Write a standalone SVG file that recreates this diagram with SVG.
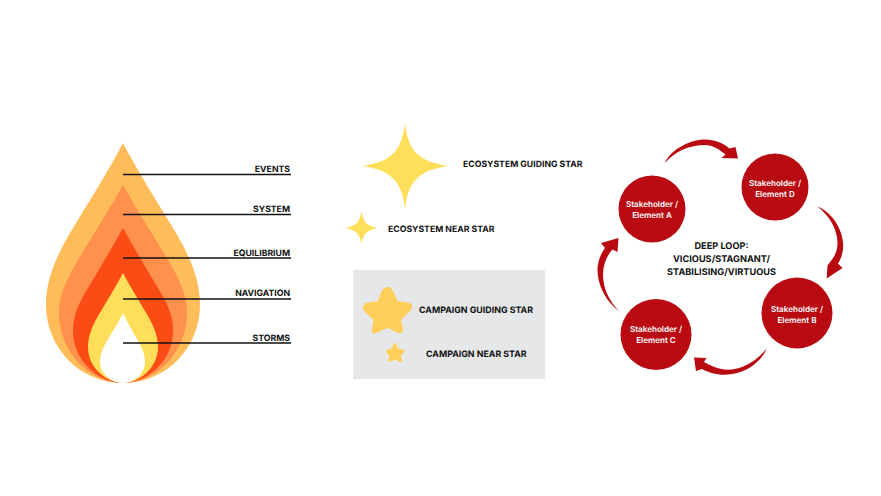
<svg xmlns="http://www.w3.org/2000/svg" width="881" height="496" viewBox="0 0 881 496">
<style>
text{font-family:"Inter","Liberation Sans",sans-serif;font-weight:700;fill:#111;font-size:8.7px;text-rendering:geometricPrecision}
.r{text-anchor:end}
.k{font-size:8.85px}
.w{fill:#fff;font-weight:600;font-size:8.1px;text-anchor:middle}
.c{fill:#111;font-weight:700;font-size:9.2px;text-anchor:middle}
.ln{stroke:#111;stroke-width:1.3;fill:none}
.node{fill:#b80a10}
.ar{fill:#b80a10}
</style>
<rect width="881" height="496" fill="#fff"/>
<g id="flame">
<path fill="#ffbd59" d="M123 143C108 172 88 203 70 233C54 260 46 282 46 305C46 348 80 383 123 383C166 383 200 348 200 305C200 282 192 260 176 233C158 203 138 172 123 143Z"/>
<path fill="#ff914d" d="M123 185C110 208 93 235 78 260C66 280 59 295 59 313C59 352 90 383 123 383C156 383 187 352 187 313C187 295 180 280 168 260C153 235 136 208 123 185Z"/>
<path fill="#fb4c16" d="M123 228C112 248 100 268 88 288C78 304 73 316 73 331C73 362 100 383 123 383C146 383 173 362 173 331C173 316 168 304 158 288C146 268 134 248 123 228Z"/>
<path fill="#ffde59" d="M123 273C115 288 107 301 98 316C91 328 88 338 88 347C88 369 108 383 123 383C138 383 158 369 158 347C158 338 155 328 148 316C139 301 131 288 123 273Z"/>
<path fill="#fff" d="M123 313C117 325 112 332 107 341C102 349 100 356 100 362C100 374 112 383 123 383C134 383 145 374 145 362C145 356 143 349 138 341C133 332 129 325 123 313Z"/>
</g>
<g id="flame-labels">
<line class="ln" x1="123" y1="174.500" x2="291" y2="174.500"/>
<line class="ln" x1="123" y1="214.500" x2="291" y2="214.500"/>
<line class="ln" x1="123" y1="258" x2="291" y2="258"/>
<line class="ln" x1="123" y1="299" x2="291" y2="299"/>
<line class="ln" x1="123" y1="343" x2="291" y2="343"/>
<text class="r" x="290" y="172">EVENTS</text>
<text class="r" x="290" y="212">SYSTEM</text>
<text class="r" x="290" y="256">EQUILIBRIUM</text>
<text class="r" x="290" y="296">NAVIGATION</text>
<text class="r" x="290" y="341">STORMS</text>
</g>
<g id="ecosystem-guiding-star">
<path fill="#ffde59" d="M405 123C408 150 418 162 449 166C418 170 408 182 405 209C402 182 392 170 362 166C392 162 402 150 405 123Z"/>
<text x="463" y="167">ECOSYSTEM GUIDING STAR</text>
</g>
<g id="ecosystem-near-star">
<path fill="#ffde59" d="M361.500 211C363 222 367 226 378 228C367 230 363 234 361.500 244C360 234 356 230 345 228C356 226 360 222 361.500 211Z"/>
<text x="388" y="232">ECOSYSTEM NEAR STAR</text>
</g>
<g id="campaign-panel">
<rect x="353" y="270" width="192" height="109" fill="#e6e7e9"/>
</g>
<g id="campaign-guiding-star">
<path fill="#ffcf5c" d="M387.500 287C391 287 393 290 395 295L397.500 301L405 302C411 302.500 413 305 412 308C411 310 408 313 405 316L401 320L403 329C403 333 401 334 398 333C395 332 391 329 387.500 328C384 329 380 332 376 333C373 334 371 333 372 329L373.500 320L367 314C364 311 362 309 363.500 305C364.500 303 367 302.500 371 302L378 301L380.500 294C382 290 384 287 387.500 287Z"/>
<text class="k" x="419" y="313">CAMPAIGN GUIDING STAR</text>
</g>
<g id="campaign-near-star">
<path fill="#ffcf5c" d="M395 343C396.500 343 397 345 398 348.500L403 349.500C405 350 405 351.500 404 352.500L401 355.500L402 360C402 362 400.500 362 399 361.500L395 359.500L391 361.500C389.500 362 388 362 388.500 360L389 355.500L386.500 352.500C385.500 351.500 386 350 388 349.500L392 348.500C393 345 393.500 343 395 343Z"/>
<text class="k" x="426" y="356.500">CAMPAIGN NEAR STAR</text>
</g>
<g id="connectors">
<path class="ar" d="M665 163C670 150 690 139.500 705 139.500C715 139.500 723 143 729.500 148.500L735.500 147L738 158.500L721.500 158L725.500 154.500C719 149 712 145 705 145C690 145 675 151 665 163Z"/>
<path class="ar" d="M817.500 206.500C830 211 843.300 228 843.200 246C843 253 841 259 838 263.500L842.500 268L826.700 278.500L827.500 265.500L832 259.500C836 254 837.500 249 837.500 243C837.500 230 830 216 817.500 206.500Z"/>
<path class="ar" d="M767 348C760 365 742 374.500 725 374.800C717 375 708 372.500 702 369L696 371L694 357.500L706.500 358L704 362C711 366 719 369.500 728 369.700C742 370 757 361 767 348Z"/>
<path class="ar" d="M619.500 311.500C606 302 597.500 285 597.500 270C597.500 262 600.500 254 605 248L601 243L618.500 238L617.500 252L612.500 249.500C606.500 256 603 265 603 275C603 288 609 301 619.500 311.500Z"/>
</g>
<g id="stakeholder-a"><circle class="node" cx="652" cy="209" r="33.500"/><text class="w" x="652" y="207">Stakeholder /</text><text class="w" x="652" y="218">Element A</text></g>
<g id="stakeholder-d"><circle class="node" cx="775" cy="187" r="33.500"/><text class="w" x="775" y="186">Stakeholder /</text><text class="w" x="775" y="197">Element D</text></g>
<g id="stakeholder-b"><circle class="node" cx="797" cy="313" r="35.500"/><text class="w" x="797" y="311.500">Stakeholder /</text><text class="w" x="797" y="322.500">Element B</text></g>
<g id="stakeholder-c"><circle class="node" cx="656" cy="334.500" r="35.500"/><text class="w" x="656" y="332">Stakeholder /</text><text class="w" x="656" y="343">Element C</text></g>
<g id="deep-loop"><text class="c" x="721.500" y="249">DEEP LOOP:</text><text class="c" x="721.500" y="262">VICIOUS/STAGNANT/</text><text class="c" x="721.500" y="274.500">STABILISING/VIRTUOUS</text></g>
</svg>
